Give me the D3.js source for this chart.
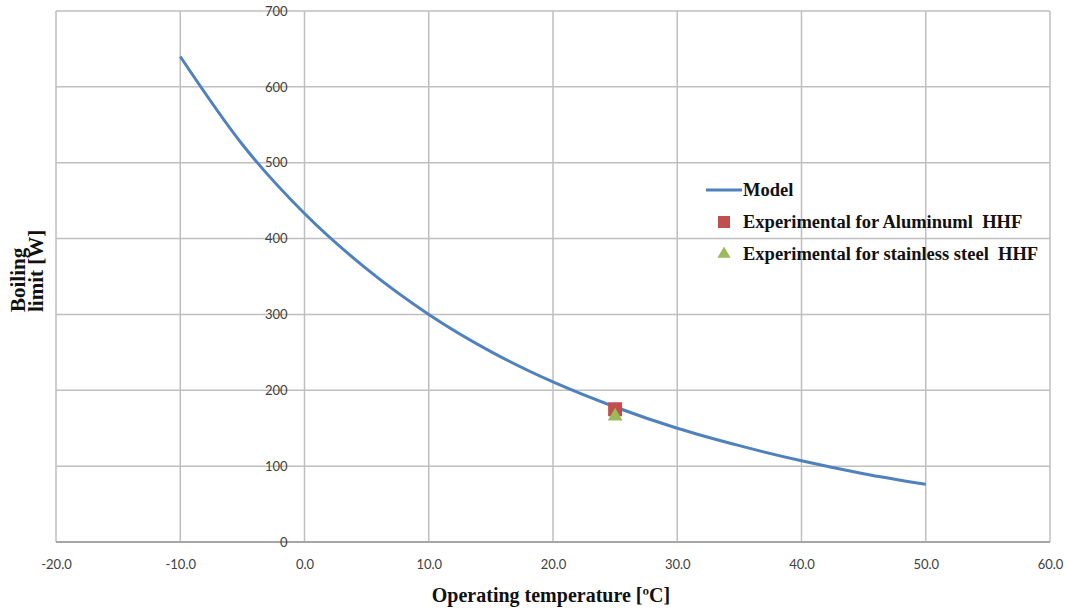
<!DOCTYPE html>
<html>
<head>
<meta charset="utf-8">
<script src="https://cdn.jsdelivr.net/npm/d3@7"></script>
<style>
  body { margin: 0; background: #fff; }
  .tick text { font-family: Lato, "Open Sans", sans-serif; font-size: 13px; fill: #404040; }
  .title { font-family: "Liberation Serif", "DejaVu Serif", serif; font-weight: bold; fill: #111; white-space: pre; }
</style>
</head>
<body>
<div id="chart"></div>
<script>
// Data
var modelTemps = [-10, -5, 0, 5, 10, 15, 20, 25, 30, 35, 40, 45, 50];
var modelLimit = [640, 524, 433, 360, 300, 251, 211, 178, 150, 127, 107, 90, 76];
var aluTemp = [25];
var aluLimit = [175];
var steelTemp = [25];
var steelLimit = [167];
var xTicks = [-20, -10, 0, 10, 20, 30, 40, 50, 60];
var yTicks = [0, 100, 200, 300, 400, 500, 600, 700];
var legendLabels = ["Model", "Experimental for Aluminuml  HHF", "Experimental for stainless steel  HHF"];

var svgWidth = 1069;
var svgHeight = 611;
var margin = { top: 11, right: 19, bottom: 69, left: 56 };
var width = svgWidth - margin.left - margin.right;
var height = svgHeight - margin.top - margin.bottom;

var svg = d3.select("#chart")
  .append("svg")
  .attr("width", svgWidth)
  .attr("height", svgHeight);

var chartGroup = svg.append("g")
  .attr("transform", `translate(${margin.left}, ${margin.top})`);

var x = d3.scaleLinear().domain([-20, 60]).range([0, width]);
var y = d3.scaleLinear().domain([0, 700]).range([height, 0]);

// grid
chartGroup.selectAll(".vgrid")
  .data(xTicks)
  .enter()
  .append("line")
  .attr("x1", d => x(d)).attr("x2", d => x(d))
  .attr("y1", 0).attr("y2", height)
  .attr("stroke", "#bfbfbf")
  .attr("stroke-width", 1.5);

chartGroup.selectAll(".hgrid")
  .data(yTicks)
  .enter()
  .append("line")
  .attr("x1", 0).attr("x2", width)
  .attr("y1", d => y(d)).attr("y2", d => y(d))
  .attr("stroke", d => d === 0 ? "#a6a6a6" : "#bfbfbf")
  .attr("stroke-width", d => d === 0 ? 2 : 1.5);

// x axis labels (plain hyphen for negatives)
var xAxis = chartGroup.append("g")
  .attr("transform", "translate(0," + height + ")")
  .call(d3.axisBottom(x).tickValues(xTicks).tickFormat(d => d.toFixed(1)).tickSize(0).tickPadding(18));
xAxis.select(".domain").remove();

// y axis labels sit on the 0 line
var yAxis = chartGroup.append("g")
  .attr("transform", "translate(" + x(0) + ",0)")
  .call(d3.axisLeft(y).tickValues(yTicks).tickSize(0).tickPadding(17));
yAxis.select(".domain").remove();

// model curve
var line = d3.line()
  .x((d, i) => x(modelTemps[i]))
  .y(d => y(d))
  .curve(d3.curveMonotoneX);

chartGroup.append("path")
  .datum(modelLimit)
  .attr("d", line)
  .attr("fill", "none")
  .attr("stroke", "#4f81bd")
  .attr("stroke-width", 3);

// experimental points
chartGroup.selectAll(".alu")
  .data(aluLimit)
  .enter()
  .append("rect")
  .attr("x", (d, i) => x(aluTemp[i]) - 7)
  .attr("y", d => y(d) - 7)
  .attr("width", 14)
  .attr("height", 14)
  .attr("fill", "#c0504d");

chartGroup.selectAll(".steel")
  .data(steelLimit)
  .enter()
  .append("path")
  .attr("d", d3.symbol().type(d3.symbolTriangle).size(95))
  .attr("transform", (d, i) => "translate(" + x(steelTemp[i]) + "," + (y(d) + 1) + ")")
  .attr("fill", "#9bbb59");

// legend
var legend = svg.append("g").attr("transform", "translate(706, 190)");
legend.append("line")
  .attr("x1", 0).attr("x2", 36).attr("y1", 0).attr("y2", 0)
  .attr("stroke", "#4f81bd").attr("stroke-width", 3);
legend.append("rect")
  .attr("x", 12).attr("y", 32 - 6).attr("width", 12).attr("height", 12)
  .attr("fill", "#c0504d");
legend.append("path")
  .attr("d", d3.symbol().type(d3.symbolTriangle).size(75))
  .attr("transform", "translate(18, 64)")
  .attr("fill", "#9bbb59");
legend.selectAll("text")
  .data(legendLabels)
  .enter()
  .append("text")
  .attr("class", "title")
  .attr("x", 37)
  .attr("y", (d, i) => i * 32 + 6)
  .attr("font-size", 18.5)
  .text(d => d);

// axis titles
svg.append("text")
  .attr("class", "title")
  .attr("x", 551)
  .attr("y", 602)
  .attr("text-anchor", "middle")
  .attr("font-size", 20)
  .text("Operating temperature [ºC]");

svg.append("text")
  .attr("class", "title")
  .attr("transform", "translate(25, 312) rotate(-90)")
  .attr("font-size", 21)
  .text("Boiling");
svg.append("text")
  .attr("class", "title")
  .attr("transform", "translate(43, 312) rotate(-90)")
  .attr("font-size", 21)
  .text("limit [W]");
</script>
</body>
</html>
